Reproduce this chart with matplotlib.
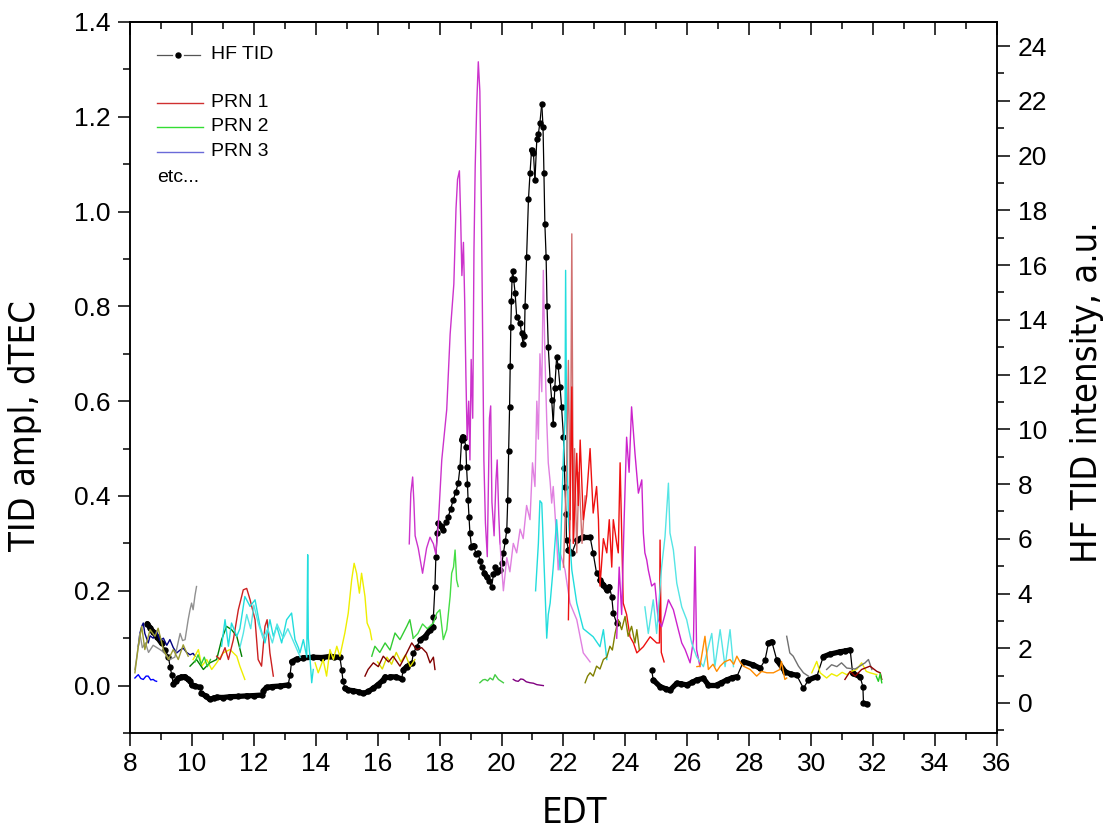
import numpy as np
import matplotlib
matplotlib.use("Agg")
import matplotlib.pyplot as plt
import matplotlib.font_manager as fm
from matplotlib.collections import LineCollection
from matplotlib.ticker import MultipleLocator

# ---- HF TID intensity (right axis), two pieces ----
hf_t1 = [8.56, 8.65, 8.75, 8.88, 9.02, 9.13, 9.24, 9.30, 9.35, 9.40, 9.48, 9.56, 9.66, 9.77, 9.86,
         9.94, 9.99, 10.1, 10.26, 10.31, 10.45, 10.58, 10.7, 10.80, 11.0, 11.23, 11.5, 11.77, 12.0,
         12.25, 12.31, 12.41, 12.6, 12.85, 13.11, 13.17, 13.22, 13.38, 13.6, 13.92, 14.2, 14.46, 14.6,
         14.78, 14.84, 14.88, 14.94, 15.05, 15.21, 15.4, 15.54, 15.7, 15.86, 16.0, 16.18, 16.24, 16.4,
         16.6, 16.77, 16.83, 16.94, 17.1, 17.15, 17.26, 17.37, 17.53, 17.69, 17.78, 17.80, 17.85,
         17.88, 17.92, 17.95, 18.05, 18.12, 18.2, 18.28, 18.36, 18.44, 18.52, 18.60, 18.66, 18.71,
         18.75, 18.79, 18.85, 18.87, 18.90, 18.92, 18.95, 18.98, 19.03, 19.1, 19.18, 19.25, 19.30,
         19.36, 19.45, 19.52, 19.6, 19.68, 19.74, 19.79, 19.87, 19.95, 20.01, 20.06, 20.12, 20.17,
         20.20, 20.23, 20.26, 20.28, 20.30, 20.32, 20.34, 20.36, 20.39, 20.44, 20.49, 20.60, 20.65,
         20.70, 20.74, 20.76, 20.81, 20.87, 20.92, 20.97, 21.03, 21.08, 21.14, 21.19, 21.24, 21.30,
         21.34, 21.37, 21.40, 21.44, 21.47, 21.51, 21.57, 21.62, 21.67, 21.72, 21.78, 21.83, 21.89,
         21.94, 22.0, 22.03, 22.05, 22.08, 22.10, 22.16, 22.27, 22.43, 22.64, 22.86, 22.96, 23.07,
         23.18, 23.29, 23.40, 23.48, 23.56, 23.61, 23.72]
hf_r1 = [2.9, 2.75, 2.6, 2.4, 2.18, 1.95, 1.69, 1.3, 1.02, 0.69, 0.8, 0.90, 0.95, 0.96, 0.88,
         0.81, 0.66, 0.62, 0.57, 0.35, 0.25, 0.13, 0.18, 0.21, 0.2, 0.23, 0.24, 0.26, 0.27,
         0.29, 0.45, 0.57, 0.6, 0.62, 0.66, 1.02, 1.51, 1.6, 1.65, 1.67, 1.66, 1.7, 1.68,
         1.67, 1.21, 0.8, 0.54, 0.47, 0.45, 0.40, 0.35, 0.42, 0.54, 0.66, 0.84, 0.96, 0.96,
         0.95, 0.88, 1.21, 1.33, 1.45, 1.81, 2.06, 2.30, 2.42, 2.67, 2.79, 3.15, 4.25,
         5.34, 6.2, 6.56, 6.45, 6.32, 6.6, 6.81, 7.1, 7.42, 7.7, 8.03, 8.63, 9.61,
         9.72, 9.67, 9.36, 8.63, 8.0, 7.42, 6.8, 6.2, 5.71, 5.75, 5.45, 5.47, 5.2,
         4.98, 4.75, 4.61, 4.45, 4.25, 4.7, 4.98, 4.8, 4.86, 5.1, 5.47, 5.9, 6.32,
         7.4, 9.2, 10.8, 12.3, 13.75, 14.7, 15.5, 15.8, 15.5, 14.96, 14.1, 13.87, 13.5,
         13.1, 13.4, 14.5, 16.3, 18.4, 19.35, 20.2, 20.1, 19.1, 20.6, 20.8, 21.2, 21.9,
         21.05, 19.35, 17.5, 16.3, 14.5, 13.0, 11.8, 11.07, 10.2, 11.5, 12.65, 12.3, 11.55,
         10.8, 9.73, 8.6, 7.9, 6.9, 5.95, 5.59, 5.47, 5.95, 6.07, 6.07, 5.47, 4.74,
         4.49, 4.31, 4.13, 4.25, 3.88, 3.28, 2.91]
hf_t2 = [24.85, 24.90, 25.12, 25.30, 25.44, 25.66, 25.80, 25.98, 26.15, 26.30, 26.52, 26.68, 26.95,
         27.10, 27.27, 27.45, 27.60, 27.81, 28.13, 28.35, 28.51, 28.62, 28.73, 28.89, 29.16, 29.35,
         29.53, 29.75, 29.91, 30.18, 30.39, 30.6, 30.93, 31.1, 31.26, 31.34, 31.58, 31.67, 31.69,
         31.80]
hf_r2 = [1.2, 0.84, 0.6, 0.52, 0.47, 0.72, 0.7, 0.66, 0.75, 0.84, 0.9, 0.66, 0.66,
         0.74, 0.84, 0.92, 0.96, 1.51, 1.39, 1.27, 1.57, 2.18, 2.24, 1.57, 1.14, 1.05,
         1.02, 0.54, 0.84, 0.96, 1.69, 1.78, 1.87, 1.9, 1.94, 1.08, 0.96, 0.6, -0.01,
         -0.04]

# ---- GPS TID amplitude traces (left axis) ----
navy_t = [8.27, 8.32, 8.38, 8.43, 8.48, 8.59, 8.65, 8.75, 8.86, 8.97, 9.08, 9.19, 9.29, 9.40, 9.51,
          9.62, 9.72, 9.83, 9.94, 10.04, 10.10]
navy_v = [0.083, 0.11, 0.125, 0.132, 0.11, 0.09, 0.105, 0.10, 0.115, 0.095, 0.10, 0.085, 0.097, 0.08,
          0.069, 0.075, 0.079, 0.07, 0.065, 0.068, 0.062]
blue_t = [8.16, 8.22, 8.27, 8.35, 8.43, 8.52, 8.59, 8.67, 8.75, 8.81, 8.86]
blue_v = [0.016, 0.02, 0.023, 0.015, 0.013, 0.02, 0.02, 0.012, 0.013, 0.01, 0.009]
gray1_t = [8.16, 8.22, 8.32, 8.4, 8.5, 8.6, 8.75, 8.97, 9.1, 9.29, 9.45, 9.62, 9.7, 9.78, 9.88, 9.94,
           9.99, 10.04, 10.1, 10.15]
gray1_v = [0.034, 0.06, 0.11, 0.08, 0.09, 0.07, 0.085, 0.076, 0.07, 0.055, 0.06, 0.11, 0.095, 0.097,
           0.139, 0.16, 0.174, 0.16, 0.19, 0.209]
olive1_t = [8.16, 8.27, 8.38, 8.48, 8.65, 8.81, 8.91, 9.08, 9.24, 9.40, 9.56, 9.72, 9.88]
olive1_v = [0.027, 0.083, 0.125, 0.076, 0.118, 0.104, 0.121, 0.076, 0.055, 0.076, 0.055, 0.086, 0.062]
yellow1_t = [10.04, 10.21, 10.32, 10.48, 10.64, 10.80, 11.01, 11.23, 11.45, 11.55, 11.71]
yellow1_v = [0.055, 0.076, 0.041, 0.055, 0.034, 0.048, 0.069, 0.076, 0.062, 0.041, 0.013]
dgreen_t = [9.94, 10.15, 10.37, 10.58, 10.8, 10.96, 11.12, 11.28, 11.45, 11.61]
dgreen_v = [0.041, 0.055, 0.034, 0.048, 0.055, 0.097, 0.125, 0.118, 0.104, 0.062]
lime1_t = [10.1, 10.2, 10.3, 10.4, 10.5, 10.6]
lime1_v = [0.05, 0.065, 0.045, 0.06, 0.04, 0.055]
red1_t = [10.80, 10.91, 11.07, 11.18, 11.34, 11.50, 11.66, 11.77, 11.88, 12.04, 12.14, 12.25, 12.36,
          12.43, 12.52, 12.63]
red1_v = [0.062, 0.055, 0.08, 0.055, 0.097, 0.16, 0.202, 0.205, 0.181, 0.139, 0.055, 0.041, 0.125,
          0.139, 0.069, 0.02]
cyan1_t = [10.96, 11.07, 11.18, 11.28, 11.45, 11.55, 11.71, 11.88, 12.04, 12.20, 12.36, 12.52, 12.63,
           12.74, 12.90, 13.06, 13.22, 13.33, 13.44, 13.49, 13.60, 13.71, 13.74, 13.76, 13.81, 13.87,
           13.92]
cyan1_v = [0.083, 0.139, 0.083, 0.132, 0.104, 0.12, 0.188, 0.167, 0.181, 0.125, 0.09, 0.139, 0.104,
           0.125, 0.09, 0.139, 0.153, 0.097, 0.08, 0.069, 0.097, 0.06, 0.276, 0.10, 0.062, 0.006,
           0.034]
cyan2_t = [11.55, 11.66, 11.77, 11.9, 12.0, 12.15, 12.3, 12.45, 12.6, 12.75, 12.95, 13.1, 13.3, 13.5]
cyan2_v = [0.08, 0.11, 0.15, 0.12, 0.17, 0.13, 0.10, 0.12, 0.09, 0.13, 0.10, 0.12, 0.09, 0.06]
yellow2_t = [13.98, 14.08, 14.24, 14.35, 14.46, 14.57, 14.68, 14.78, 14.94, 15.05, 15.16, 15.24, 15.32,
             15.41, 15.48, 15.59, 15.66, 15.75, 15.81]
yellow2_v = [0.048, 0.027, 0.055, 0.02, 0.076, 0.055, 0.083, 0.062, 0.111, 0.153, 0.223, 0.258, 0.237,
             0.195, 0.237, 0.188, 0.132, 0.118, 0.097]
yellow3_t = [16.0, 16.15, 16.3, 16.45, 16.6, 16.75, 16.9, 17.05, 17.2]
yellow3_v = [0.05, 0.035, 0.06, 0.045, 0.07, 0.05, 0.065, 0.04, 0.055]
brown1_t = [15.59, 15.69, 15.86, 16.02, 16.18, 16.35, 16.50, 16.72, 16.94, 17.10, 17.26, 17.42, 17.58,
            17.69, 17.80, 17.85]
brown1_v = [0.02, 0.034, 0.048, 0.04, 0.062, 0.05, 0.062, 0.041, 0.069, 0.09, 0.076, 0.08, 0.069,
            0.048, 0.06, 0.034]
green1_t = [15.81, 15.91, 16.07, 16.24, 16.40, 16.56, 16.72, 16.94, 17.04, 17.15]
green1_v = [0.062, 0.083, 0.07, 0.09, 0.075, 0.111, 0.097, 0.125, 0.139, 0.10]
lime2_t = [17.15, 17.3, 17.45, 17.6, 17.80, 17.91, 18.01, 18.12, 18.23, 18.34, 18.39, 18.45, 18.50,
           18.55, 18.60]
lime2_v = [0.10, 0.11, 0.13, 0.12, 0.132, 0.153, 0.16, 0.097, 0.118, 0.188, 0.237, 0.25, 0.286,
           0.223, 0.209]
mag1_t = [17.02, 17.07, 17.13, 17.17, 17.21, 17.31, 17.45, 17.58, 17.69, 17.80, 17.88, 17.96, 18.07,
          18.23, 18.34, 18.46, 18.53, 18.58, 18.64, 18.68, 18.72, 18.77, 18.81, 18.85, 18.89, 18.94,
          18.98, 19.02, 19.07, 19.11, 19.15, 19.20, 19.25, 19.30, 19.35, 19.39, 19.43, 19.48, 19.54,
          19.61, 19.65, 19.69, 19.76, 19.82, 19.86, 19.91, 19.95]
mag1_v = [0.299, 0.405, 0.44, 0.387, 0.316, 0.29, 0.237, 0.29, 0.313, 0.299, 0.277, 0.343, 0.476,
          0.582, 0.741, 0.847, 1.006, 1.068, 1.086, 0.988, 0.865, 0.935, 0.812, 0.653, 0.52, 0.6,
          0.476, 0.688, 0.564, 0.918, 1.095, 1.227, 1.316, 1.254, 1.006, 0.741, 0.476, 0.343, 0.272,
          0.564, 0.59, 0.387, 0.316, 0.432, 0.476, 0.362, 0.299]
orchid_t = [19.95, 20.06, 20.17, 20.27, 20.38, 20.49, 20.6, 20.7, 20.81, 20.92, 21.0, 21.08, 21.14,
            21.19, 21.24, 21.30, 21.35, 21.40, 21.46, 21.51, 21.57, 21.62, 21.67, 21.78, 21.83, 21.89,
            22.05, 22.21, 22.43, 22.64, 22.86]
orchid_v = [0.30, 0.20, 0.27, 0.24, 0.30, 0.28, 0.33, 0.31, 0.38, 0.35, 0.47, 0.42, 0.60, 0.52, 0.70,
            0.62, 0.876, 0.70, 0.56, 0.47, 0.43, 0.385, 0.42, 0.31, 0.244, 0.28, 0.244, 0.174, 0.139,
            0.069, 0.05]
cyan3_t = [21.10, 21.19, 21.24, 21.30, 21.40, 21.46, 21.51, 21.57, 21.67, 21.78, 21.89, 21.94, 22.0,
           22.05, 22.07, 22.10, 22.16, 22.27, 22.43, 22.64, 22.96, 23.18, 23.29, 23.40]
cyan3_v = [0.20, 0.30, 0.39, 0.385, 0.21, 0.10, 0.15, 0.174, 0.25, 0.35, 0.244, 0.36, 0.49, 0.56,
           0.876, 0.56, 0.35, 0.244, 0.174, 0.12, 0.103, 0.082, 0.118, 0.055]
salmon_t = [22.0, 22.1, 22.16, 22.22, 22.27, 22.32, 22.36, 22.43, 22.5, 22.6, 22.7]
salmon_v = [0.25, 0.45, 0.686, 0.35, 0.953, 0.30, 0.50, 0.28, 0.45, 0.30, 0.40]
red2_t = [22.16, 22.22, 22.27, 22.32, 22.43, 22.48, 22.54, 22.64, 22.75, 22.86, 22.96, 23.07, 23.13,
          23.18, 23.29, 23.40, 23.48, 23.56, 23.61, 23.72, 23.77, 23.83, 23.93, 24.04, 24.15, 24.26,
          24.37, 24.58, 24.80, 25.01, 25.10, 25.12, 25.16, 25.25]
red2_v = [0.139, 0.40, 0.63, 0.30, 0.49, 0.38, 0.518, 0.35, 0.40, 0.50, 0.364, 0.42, 0.35, 0.21,
          0.31, 0.28, 0.35, 0.25, 0.35, 0.30, 0.28, 0.47, 0.174, 0.15, 0.103, 0.09, 0.069, 0.082,
          0.103, 0.09, 0.09, 0.307, 0.07, 0.05]
olive2_t = [22.70, 22.78, 22.86, 22.96, 23.07, 23.18, 23.29, 23.40, 23.50, 23.58, 23.67, 23.77, 23.88,
            23.99, 24.09, 24.20, 24.31, 24.37, 24.45]
olive2_v = [0.006, 0.02, 0.027, 0.02, 0.041, 0.035, 0.055, 0.06, 0.083, 0.075, 0.111, 0.139, 0.118,
            0.146, 0.104, 0.125, 0.09, 0.118, 0.076]
mag2_t = [23.72, 23.80, 23.88, 23.96, 24.04, 24.12, 24.20, 24.31, 24.42, 24.53, 24.58, 24.63, 24.69,
          24.74, 24.85, 24.95, 25.06, 25.17, 25.28, 25.39, 25.55, 25.71, 25.82, 25.93, 26.09, 26.20,
          26.25, 26.30, 26.41]
mag2_v = [0.10, 0.25, 0.15, 0.35, 0.524, 0.45, 0.588, 0.49, 0.406, 0.434, 0.322, 0.28, 0.265, 0.244,
          0.21, 0.216, 0.139, 0.124, 0.15, 0.181, 0.16, 0.118, 0.09, 0.076, 0.048, 0.097, 0.293,
          0.076, 0.04]
cyan4_t = [24.63, 24.74, 24.90, 25.01, 25.17, 25.28, 25.39, 25.44, 25.55, 25.66, 25.82, 25.98, 26.14,
           26.30, 26.52, 26.79, 26.89, 27.06, 27.22, 27.38, 27.49]
cyan4_v = [0.166, 0.11, 0.181, 0.11, 0.25, 0.314, 0.427, 0.322, 0.286, 0.216, 0.166, 0.139, 0.09,
           0.061, 0.04, 0.11, 0.04, 0.118, 0.04, 0.118, 0.04]
orange_t = [26.31, 26.41, 26.57, 26.68, 26.83, 26.95, 27.06, 27.2, 27.38, 27.5, 27.60, 27.7, 27.81,
            28.03, 28.24, 28.4, 28.57, 28.78, 28.99, 29.04, 29.15, 29.21]
orange_v = [0.04, 0.041, 0.104, 0.034, 0.045, 0.03, 0.041, 0.05, 0.055, 0.045, 0.062, 0.05, 0.041,
            0.034, 0.02, 0.03, 0.027, 0.027, 0.034, 0.051, 0.013, 0.016]
gray2_t = [29.21, 29.31, 29.42, 29.59, 29.75, 29.91]
gray2_v = [0.104, 0.069, 0.062, 0.041, 0.027, 0.02]
yellow4_t = [30.02, 30.18, 30.29, 30.50, 30.66, 30.83, 31.0, 31.15, 31.3, 31.47, 31.63, 31.78, 31.90,
             32.12]
yellow4_v = [0.027, 0.051, 0.027, 0.016, 0.025, 0.02, 0.028, 0.023, 0.03, 0.034, 0.048, 0.03, 0.027,
             0.023]
gray3_t = [30.50, 30.66, 30.83, 30.98, 31.15, 31.42, 31.74, 31.85, 31.96]
gray3_v = [0.034, 0.044, 0.04, 0.048, 0.037, 0.035, 0.048, 0.055, 0.034]
brown2_t = [31.09, 31.26, 31.42, 31.63, 31.90, 32.12, 32.23, 32.28]
brown2_v = [0.013, 0.03, 0.02, 0.034, 0.041, 0.03, 0.027, 0.013]
green2_t = [32.1, 32.17, 32.23, 32.28]
green2_v = [0.02, 0.009, 0.025, 0.006]
green3_t = [19.30, 19.40, 19.47, 19.55, 19.63, 19.72, 19.79, 19.90, 20.06]
green3_v = [0.006, 0.012, 0.013, 0.01, 0.016, 0.012, 0.023, 0.013, 0.006]
purple_t = [20.38, 20.46, 20.54, 20.62, 20.70, 20.80, 20.92, 21.03, 21.14, 21.35]
purple_v = [0.013, 0.01, 0.009, 0.014, 0.013, 0.008, 0.006, 0.005, 0.002, 0.0]

traces = [
    (navy_t, navy_v, "#000080"), (blue_t, blue_v, "#0000ff"), (gray1_t, gray1_v, "#909090"),
    (olive1_t, olive1_v, "#9a9a30"), (yellow1_t, yellow1_v, "#eeee00"), (dgreen_t, dgreen_v, "#008000"),
    (lime1_t, lime1_v, "#33cc33"), (red1_t, red1_v, "#cc2020"), (cyan1_t, cyan1_v, "#22dddd"),
    (cyan2_t, cyan2_v, "#55e5e5"), (yellow2_t, yellow2_v, "#eeee00"), (yellow3_t, yellow3_v, "#dddd00"),
    (brown1_t, brown1_v, "#800000"), (green1_t, green1_v, "#33cc33"), (lime2_t, lime2_v, "#44dd44"),
    (mag1_t, mag1_v, "#cc33cc"), (orchid_t, orchid_v, "#e080e0"), (cyan3_t, cyan3_v, "#22dddd"),
    (salmon_t, salmon_v, "#d07070"), (red2_t, red2_v, "#ee1010"), (olive2_t, olive2_v, "#808000"),
    (mag2_t, mag2_v, "#cc22cc"), (cyan4_t, cyan4_v, "#55e5e5"), (orange_t, orange_v, "#ff8c00"),
    (gray2_t, gray2_v, "#707070"), (yellow4_t, yellow4_v, "#eeee00"), (gray3_t, gray3_v, "#707070"),
    (brown2_t, brown2_v, "#900000"), (green2_t, green2_v, "#22cc22"), (green3_t, green3_v, "#44cc44"),
    (purple_t, purple_v, "#800080"),
]

plt.rcParams["font.family"] = ["Liberation Sans", "DejaVu Sans"]


def find_narrow():
    # axis titles in the original use a condensed face; pick one if installed
    best = None
    for f in fm.fontManager.ttflist:
        fn = f.fname.lower()
        if not ("narrow" in fn or "condensed" in fn):
            continue
        if any(k in fn for k in ("bold", "italic", "oblique", "light", "semi", "extra", "black",
                                 "medium", "thin")):
            continue
        rank = 0 if "liberation" in fn else 1 if "dejavu" in fn else 2
        if best is None or rank < best[0]:
            best = (rank, f.fname)
    return best[1] if best else None


narrow_file = find_narrow()
if narrow_file:
    lab_font = dict(fontproperties=fm.FontProperties(fname=narrow_file, size=26))
else:
    lab_font = dict(family="Liberation Sans", fontsize=25)

fig = plt.figure(figsize=(11.06, 8.32), dpi=100)
ax = fig.add_axes([0.1175, 0.119, 0.7839, 0.8546])
ax2 = ax.twinx()
ax.set_zorder(ax2.get_zorder() + 1)
ax.patch.set_visible(False)

for t, v, c in traces:
    ax.plot(t, v, color=c, lw=1.0, zorder=2)


def hf_piece(t, r):
    # thick where the curve is flat (dense dots), thin where it is steep
    t = np.asarray(t)
    r = np.asarray(r)
    pts = np.column_stack([t, r])
    segs = np.stack([pts[:-1], pts[1:]], axis=1)
    dx = np.diff(t) * 30.96
    dy = np.diff(r) * 27.375
    widths = np.where((np.abs(dy) > 1.6 * np.abs(dx)) & (np.abs(dy) > 4), 0.9, 3.8)
    ax2.add_collection(LineCollection(segs, colors="black", linewidths=widths, zorder=3,
                                      capstyle="round", joinstyle="round"))
    ax2.plot(t, r, "o", color="black", ms=3.6, zorder=4)


hf_piece(hf_t1, hf_r1)
hf_piece(hf_t2, hf_r2)

ax.set_xlim(8, 36)
ax.set_ylim(-0.1, 1.4)
ax2.set_ylim(-1.096, 24.88)

ax.xaxis.set_major_locator(MultipleLocator(2))
ax.xaxis.set_minor_locator(MultipleLocator(1))
ax.yaxis.set_major_locator(MultipleLocator(0.2))
ax.yaxis.set_minor_locator(MultipleLocator(0.1))
ax2.yaxis.set_major_locator(MultipleLocator(2))
ax2.yaxis.set_minor_locator(MultipleLocator(1))
ax.yaxis.set_major_formatter(plt.FuncFormatter(lambda v, p: f"{v:.1f}"))

ax.tick_params(axis="both", which="major", direction="out", length=9, width=1.1, labelsize=19,
               pad=5)
ax.tick_params(axis="both", which="minor", direction="out", length=5, width=1.1)
ax.tick_params(axis="y", right=False)
ax2.tick_params(axis="y", which="major", direction="out", length=9, width=1.1, labelsize=19, pad=6)
ax2.tick_params(axis="y", which="minor", direction="out", length=5, width=1.1)

top = ax.secondary_xaxis("top")
top.xaxis.set_major_locator(MultipleLocator(2))
top.xaxis.set_minor_locator(MultipleLocator(1))
top.tick_params(which="major", direction="in", length=9, width=1.1, labeltop=False)
top.tick_params(which="minor", direction="in", length=5, width=1.1)

for a in (ax, ax2):
    for s in a.spines.values():
        s.set_linewidth(1.1)
top.spines["top"].set_linewidth(1.1)

ax.set_xlabel("EDT", **lab_font)
ax.set_ylabel("TID ampl, dTEC", **lab_font)
ax2.set_ylabel("HF TID intensity, a.u.", **lab_font)
# the original titles sit a little below the axis centre
ax.xaxis.set_label_coords(0.513, -0.088)
ax.yaxis.set_label_coords(-0.101, 0.433)
ax2.yaxis.set_label_coords(1.084, 0.48)

# legend drawn by hand to keep the original layout
tr = ax.transAxes
for x0, x1 in [(0.031, 0.049), (0.062, 0.081)]:
    ax.plot([x0, x1], [0.9536, 0.9536], color="#555555", lw=0.9, transform=tr, zorder=5)
ax.plot([0.0555], [0.9536], "o", color="black", ms=3.6, transform=tr, zorder=5)
ax.text(0.093, 0.9536, "HF TID", transform=tr, fontsize=14, va="center")
for y, c, lab in [(0.8861, "#d03030", "PRN 1"), (0.8523, "#33dd33", "PRN 2"),
                  (0.8172, "#6a6ad8", "PRN 3")]:
    ax.plot([0.031, 0.084], [y, y], color=c, lw=1.0, transform=tr, zorder=5)
    ax.text(0.093, y, lab, transform=tr, fontsize=14, va="center")
ax.text(0.031, 0.7806, "etc...", transform=tr, fontsize=14, va="center")

fig.savefig("out.png", dpi=100)
